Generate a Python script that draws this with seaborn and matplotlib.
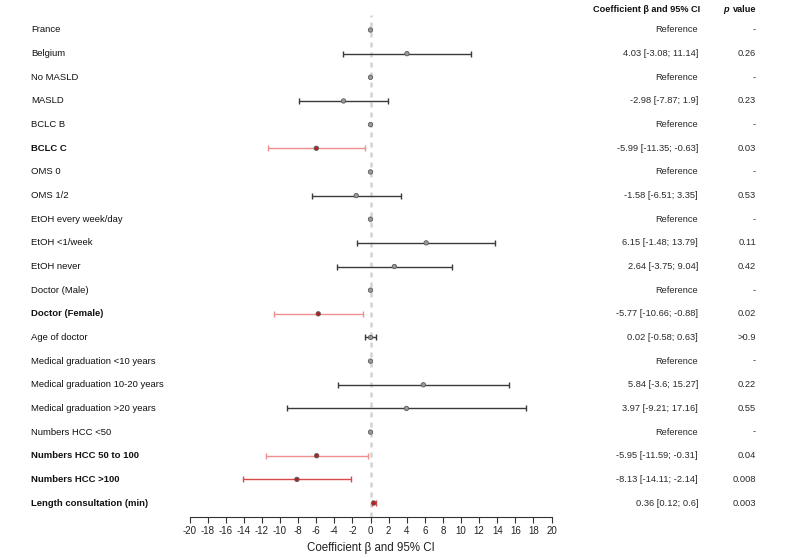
import numpy as np
import pandas as pd
import matplotlib
matplotlib.use("Agg")
import matplotlib.pyplot as plt
import matplotlib.transforms as mtransforms
import seaborn as sns

# Daten
labels = ["France", "Belgium", "No MASLD", "MASLD", "BCLC B", "BCLC C",
          "OMS 0", "OMS 1/2", "EtOH every week/day", "EtOH <1/week", "EtOH never",
          "Doctor (Male)", "Doctor (Female)", "Age of doctor",
          "Medical graduation <10 years", "Medical graduation 10-20 years",
          "Medical graduation >20 years", "Numbers HCC <50", "Numbers HCC 50 to 100",
          "Numbers HCC >100", "Length consultation (min)"]
beta = [0, 4.03, 0, -2.98, 0, -5.99, 0, -1.58, 0, 6.15, 2.64, 0, -5.77, 0.02,
        0, 5.84, 3.97, 0, -5.95, -8.13, 0.36]
lower = [np.nan, -3.08, np.nan, -7.87, np.nan, -11.35, np.nan, -6.51, np.nan, -1.48, -3.75,
         np.nan, -10.66, -0.58, np.nan, -3.6, -9.21, np.nan, -11.59, -14.11, 0.12]
upper = [np.nan, 11.14, np.nan, 1.9, np.nan, -0.63, np.nan, 3.35, np.nan, 13.79, 9.04,
         np.nan, -0.88, 0.63, np.nan, 15.27, 17.16, np.nan, -0.31, -2.14, 0.6]
pvals = ["-", "0.26", "-", "0.23", "-", "0.03", "-", "0.53", "-", "0.11", "0.42",
         "-", "0.02", ">0.9", "-", "0.22", "0.55", "-", "0.04", "0.008", "0.003"]

df = pd.DataFrame({"label": labels, "beta": beta, "lower": lower, "upper": upper, "p": pvals})
df["row"] = np.arange(len(df))
df["ref"] = df["lower"].isna()
df["sig"] = [(p not in ("-", ">0.9")) and float(p) < 0.05 for p in df["p"]]

sns.set_theme(style="white")
plt.rcParams["font.family"] = ["Liberation Sans", "DejaVu Sans"]
plt.rcParams["axes.unicode_minus"] = False

fig = plt.figure(figsize=(7.87, 5.58), dpi=100)
ax = fig.add_axes([189.5 / 787, 41 / 558, 362 / 787, 502 / 558])

# Nulllinie
ax.axvline(0, color="#d2d2d2", lw=1.8, ls=(0, (2.0, 2.0)), zorder=0)

# Konfidenzintervalle
for _, r in df[~df["ref"]].iterrows():
    if r["sig"]:
        farbe = "#d84a4a" if float(r["p"]) < 0.01 else "#ef8f8f"
    else:
        farbe = "#3a3a3a"
    ax.errorbar(r["beta"], r["row"], xerr=[[r["beta"] - r["lower"]], [r["upper"] - r["beta"]]],
                fmt="none", ecolor=farbe, elinewidth=1.0, capsize=2.3, capthick=1.0, zorder=2)

# Punkte
df["gruppe"] = np.where(df["sig"], "sig", "ns")
sns.scatterplot(data=df, x="beta", y="row", hue="gruppe",
                palette={"sig": "#b82020", "ns": "#9a9a9a"},
                edgecolor="#5a5a5a", linewidth=0.6, s=10, legend=False, ax=ax, zorder=3)

ax.set_xlim(-20, 20)
ax.set_ylim(20.59, -0.634)
ax.set_xticks(np.arange(-20, 21, 2))
ax.tick_params(axis="x", bottom=True, length=4.3, width=0.8, color="#333333",
               labelsize=7, pad=2.5, labelcolor="#222222")
ax.set_yticks([])
for s in ["top", "left", "right"]:
    ax.spines[s].set_visible(False)
ax.spines["bottom"].set_color("#333333")
ax.spines["bottom"].set_linewidth(0.8)
ax.set_xlabel("Coefficient β and 95% CI", fontsize=8.3, color="#222222", labelpad=4)
ax.set_ylabel("")

# Tabelle rechts und Labels links
trans = mtransforms.blended_transform_factory(fig.transFigure, ax.transData)
for _, r in df.iterrows():
    ax.text(31 / 787, r["row"], r["label"], transform=trans, va="center", ha="left",
            fontsize=6.8, color="#111111", fontweight="bold" if r["sig"] else "normal")
    if r["ref"]:
        ci = "Reference"
    else:
        ci = f"{r['beta']:g} [{r['lower']:g}; {r['upper']:g}]"
    ax.text(698 / 787, r["row"], ci, transform=trans, va="center", ha="right",
            fontsize=6.7, color="#2a2a2a")
    ax.text(756 / 787, r["row"], r["p"], transform=trans, va="center", ha="right",
            fontsize=6.7, color="#2a2a2a")

kopf_y = -0.88
ax.text(700 / 787, kopf_y, "Coefficient β and 95% CI", transform=trans, va="center",
        ha="right", fontsize=6.6, fontweight="bold", color="#111111", clip_on=False)
ax.text(723 / 787, kopf_y, "p", transform=trans, va="center", ha="left", fontsize=6.6,
        fontweight="bold", fontstyle="italic", color="#111111", clip_on=False)
ax.text(756 / 787, kopf_y, "value", transform=trans, va="center", ha="right", fontsize=6.6,
        fontweight="bold", color="#111111", clip_on=False)

fig.savefig("out.png", dpi=100)
